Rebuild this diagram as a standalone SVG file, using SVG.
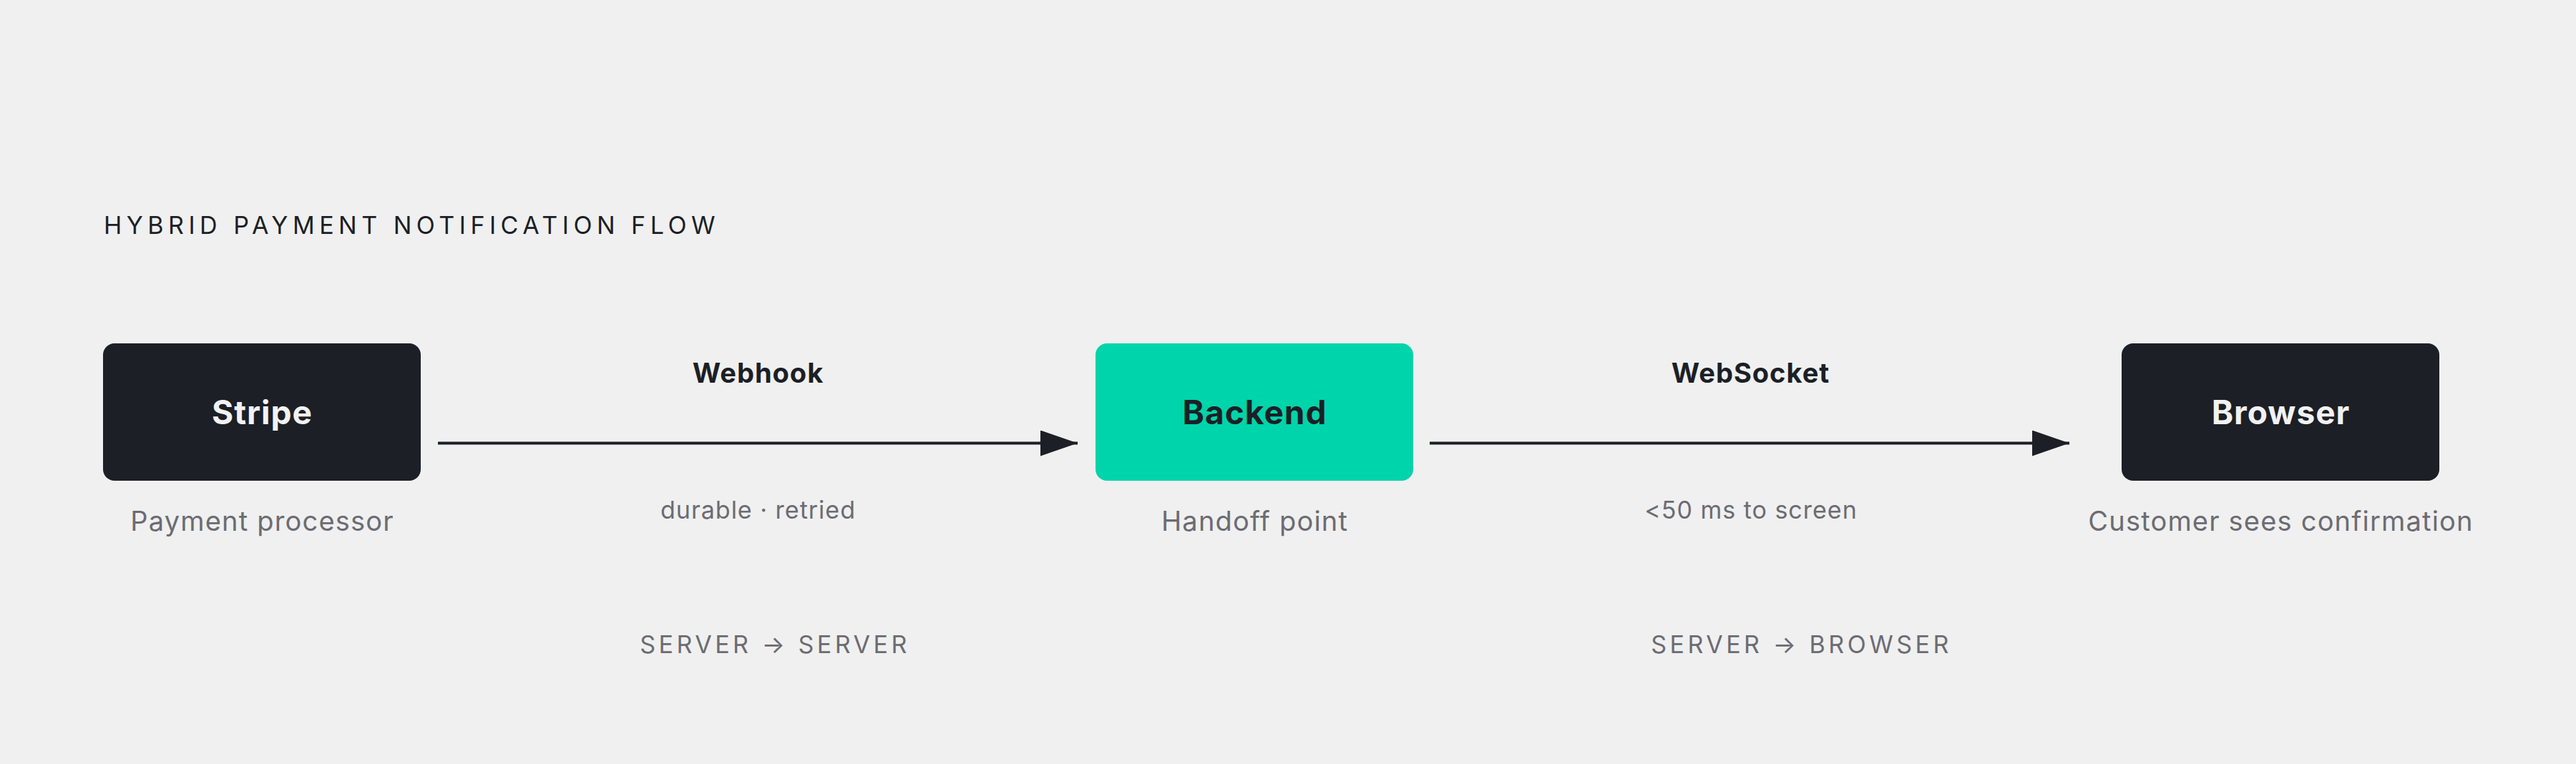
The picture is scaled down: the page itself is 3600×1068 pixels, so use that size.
<svg xmlns="http://www.w3.org/2000/svg" width="3600" height="1068" viewBox="0 0 3600 1068">
  <style>
    text { font-family: Inter, "Noto Sans", "Liberation Sans", sans-serif; }
    .title { font-size: 34px; letter-spacing: 6.5px; fill: #1c1f26; }
    .node-dark { fill: #1c1f26; }
    .node-teal { fill: #00d4aa; }
    .node-label { font-size: 46px; font-weight: 700; letter-spacing: 1px; text-anchor: middle; }
    .on-dark { fill: #f2f2f2; }
    .on-teal { fill: #1c1f26; }
    .sub { font-size: 38px; letter-spacing: 1.2px; fill: #6b6c72; text-anchor: middle; }
    .edge-label { font-size: 38px; font-weight: 700; letter-spacing: 1px; fill: #1c1f26; text-anchor: middle; }
    .edge-sub { font-size: 34px; letter-spacing: 1px; fill: #6b6c72; text-anchor: middle; }
    .lane { font-size: 34px; letter-spacing: 4.5px; fill: #6b6c72; text-anchor: middle; }
    .conn { stroke: #1c1f26; stroke-width: 4; fill: none; }
  </style>
  <defs>
    <marker id="arrow" markerUnits="userSpaceOnUse" markerWidth="54" markerHeight="36" refX="52" refY="18" orient="auto">
      <path d="M0,0 L52,18 L0,36 Z" fill="#1c1f26"/>
    </marker>
  </defs>
  <rect width="3600" height="1068" fill="#f0f0f0"/>

  <text class="title" x="145" y="327">HYBRID PAYMENT NOTIFICATION FLOW</text>

  <g id="connectors">
    <g id="edge-webhook">
      <line class="conn" x1="612" y1="619.5" x2="1506" y2="619.5" marker-end="url(#arrow)"/>
      <text class="edge-label" x="1059.5" y="535">Webhook</text>
      <text class="edge-sub" x="1059.5" y="725">durable · retried</text>
      <text class="lane" x="1083" y="913">SERVER → SERVER</text>
    </g>
    <g id="edge-websocket">
      <line class="conn" x1="1998" y1="619.5" x2="2892" y2="619.5" marker-end="url(#arrow)"/>
      <text class="edge-label" x="2446.5" y="535">WebSocket</text>
      <text class="edge-sub" x="2447" y="725">&lt;50 ms to screen</text>
      <text class="lane" x="2517.5" y="913">SERVER → BROWSER</text>
    </g>
  </g>

  <g id="node-stripe">
    <rect class="node-dark" x="144" y="480" width="444" height="192" rx="16"/>
    <text class="node-label on-dark" x="366.5" y="593">Stripe</text>
    <text class="sub" x="366.5" y="742">Payment processor</text>
  </g>

  <g id="node-backend">
    <rect class="node-teal" x="1531" y="480" width="444" height="192" rx="16"/>
    <text class="node-label on-teal" x="1753.5" y="593">Backend</text>
    <text class="sub" x="1753.5" y="742">Handoff point</text>
  </g>

  <g id="node-browser">
    <rect class="node-dark" x="2965" y="480" width="444" height="192" rx="16"/>
    <text class="node-label on-dark" x="3187.5" y="593">Browser</text>
    <text class="sub" x="3187.5" y="742">Customer sees confirmation</text>
  </g>
</svg>
